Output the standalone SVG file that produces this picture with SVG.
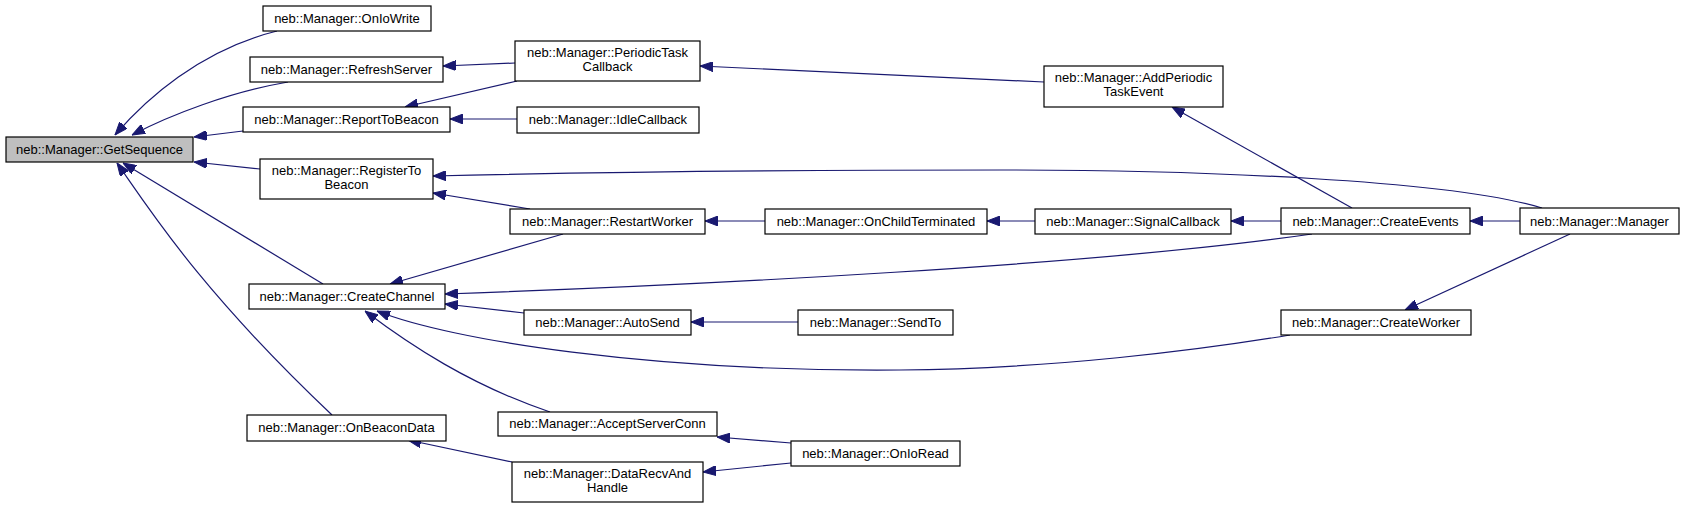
<svg xmlns="http://www.w3.org/2000/svg" width="1685" height="508" viewBox="0 0 1685 508">
<style>
.n rect{fill:#fff;stroke:#000;stroke-width:1.2}
.n.g rect{fill:#bfbfbf}
.n text{font-family:"Liberation Sans",Arial,sans-serif;font-size:13px;text-anchor:middle;fill:#000}
.e path{fill:none;stroke:#191970;stroke-width:1.2;marker-start:url(#ah)}
</style>
<defs>
<marker id="ah" viewBox="0 0 13 10" refX="13" refY="5" markerWidth="13" markerHeight="10" markerUnits="userSpaceOnUse" orient="auto-start-reverse">
<path d="M0,0 L13,5 L0,10 z" fill="#191970" stroke="#191970" stroke-width="1"/>
</marker>
</defs>
<rect width="1685" height="508" fill="#fff"/>
<g class="e" id="edges">
<path d="M115,135 C145,100 200,50 277,31"/>
<path d="M132,135 C170,115 230,92 288,82"/>
<path d="M194,137 L243,131"/>
<path d="M194,162 L260,169"/>
<path d="M123,163 L323,284"/>
<path d="M117,163 C150,210 200,290 332,415"/>
<path d="M443,66 L515,63"/>
<path d="M405,107 L517,81"/>
<path d="M450,119 L517,119"/>
<path d="M700,66 L1044,82"/>
<path d="M433,176 C600,172 800,170 1000,170 C1200,170 1450,180 1542,208"/>
<path d="M433,193 L530,209"/>
<path d="M705,221 L765,221"/>
<path d="M987,221 L1035,221"/>
<path d="M1231,221 L1281,221"/>
<path d="M1470,221 L1520,221"/>
<path d="M390,284 L563,234"/>
<path d="M445,294 C700,285 1100,265 1312,234"/>
<path d="M445,304 L524,313"/>
<path d="M691,322 L798,322"/>
<path d="M377,311 C450,340 650,372 900,370 C1050,369 1200,350 1290,335"/>
<path d="M365,311 C410,345 470,385 550,412"/>
<path d="M717,437 L791,443"/>
<path d="M703,472 L791,463"/>
<path d="M408,440 L512,462"/>
<path d="M1405,310 L1570,234"/>
<path d="M1172,107 L1352,208"/>
</g>
<g class="n g" id="GetSequence"><rect x="6" y="137" width="187" height="25"/><text x="99.5" y="154">neb::Manager::GetSequence</text></g>
<g class="n" id="OnIoWrite"><rect x="263" y="6" width="168" height="25"/><text x="347" y="23">neb::Manager::OnIoWrite</text></g>
<g class="n" id="RefreshServer"><rect x="250" y="57" width="193" height="25"/><text x="346.5" y="74">neb::Manager::RefreshServer</text></g>
<g class="n" id="ReportToBeacon"><rect x="243" y="107" width="207" height="25"/><text x="346.5" y="124">neb::Manager::ReportToBeacon</text></g>
<g class="n" id="RegisterToBeacon"><rect x="260" y="159" width="173" height="40"/><text x="346.5" y="175">neb::Manager::RegisterTo</text><text x="346.5" y="189">Beacon</text></g>
<g class="n" id="CreateChannel"><rect x="249" y="284" width="196" height="25"/><text x="347" y="301">neb::Manager::CreateChannel</text></g>
<g class="n" id="OnBeaconData"><rect x="247" y="415" width="199" height="26"/><text x="346.5" y="432">neb::Manager::OnBeaconData</text></g>
<g class="n" id="PeriodicTaskCallback"><rect x="515" y="41" width="185" height="40"/><text x="607.5" y="57">neb::Manager::PeriodicTask</text><text x="607.5" y="71">Callback</text></g>
<g class="n" id="IdleCallback"><rect x="517" y="107" width="182" height="26"/><text x="608" y="124">neb::Manager::IdleCallback</text></g>
<g class="n" id="RestartWorker"><rect x="510" y="209" width="195" height="25"/><text x="607.5" y="226">neb::Manager::RestartWorker</text></g>
<g class="n" id="AutoSend"><rect x="524" y="310" width="167" height="25"/><text x="607.5" y="327">neb::Manager::AutoSend</text></g>
<g class="n" id="AcceptServerConn"><rect x="498" y="412" width="219" height="24"/><text x="607.5" y="428">neb::Manager::AcceptServerConn</text></g>
<g class="n" id="DataRecvAndHandle"><rect x="512" y="462" width="191" height="40"/><text x="607.5" y="478">neb::Manager::DataRecvAnd</text><text x="607.5" y="492">Handle</text></g>
<g class="n" id="OnChildTerminated"><rect x="765" y="209" width="222" height="25"/><text x="876" y="226">neb::Manager::OnChildTerminated</text></g>
<g class="n" id="SendTo"><rect x="798" y="310" width="155" height="25"/><text x="875.5" y="327">neb::Manager::SendTo</text></g>
<g class="n" id="OnIoRead"><rect x="791" y="441" width="169" height="25"/><text x="875.5" y="458">neb::Manager::OnIoRead</text></g>
<g class="n" id="AddPeriodicTaskEvent"><rect x="1044" y="66" width="179" height="41"/><text x="1133.5" y="82">neb::Manager::AddPeriodic</text><text x="1133.5" y="96">TaskEvent</text></g>
<g class="n" id="SignalCallback"><rect x="1035" y="209" width="196" height="25"/><text x="1133" y="226">neb::Manager::SignalCallback</text></g>
<g class="n" id="CreateEvents"><rect x="1281" y="208" width="189" height="26"/><text x="1375.5" y="226">neb::Manager::CreateEvents</text></g>
<g class="n" id="CreateWorker"><rect x="1281" y="310" width="190" height="25"/><text x="1376" y="327">neb::Manager::CreateWorker</text></g>
<g class="n" id="Manager"><rect x="1520" y="208" width="159" height="26"/><text x="1599.5" y="226">neb::Manager::Manager</text></g>
</svg>
